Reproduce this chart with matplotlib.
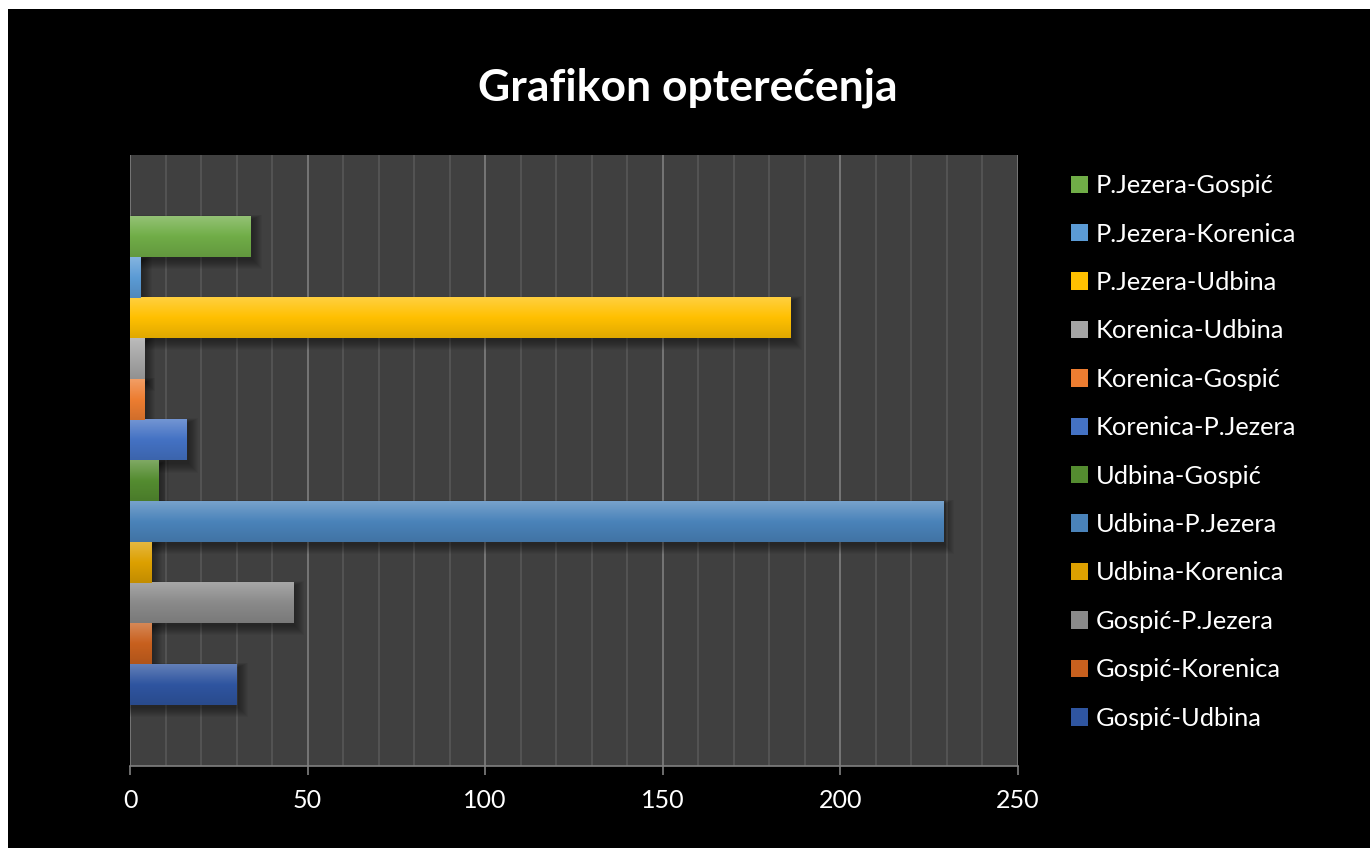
import numpy as np
import matplotlib.pyplot as plt
from matplotlib.patches import Rectangle, Patch
from matplotlib.colors import to_rgb

plt.rcParams['font.family'] = ['Lato', 'DejaVu Sans']

routes = ['Gospić-Udbina', 'Gospić-Korenica', 'Gospić-P.Jezera',
          'Udbina-Korenica', 'Udbina-P.Jezera', 'Udbina-Gospić',
          'Korenica-P.Jezera', 'Korenica-Gospić', 'Korenica-Udbina',
          'P.Jezera-Udbina', 'P.Jezera-Korenica', 'P.Jezera-Gospić']
values = [30, 6, 46, 6, 229, 8, 16, 4, 4, 186, 3, 34]
colors = ['#2F55A0', '#C8601E', '#8A8A8A', '#DDA000', '#4A83BA', '#548C30',
          '#4472C4', '#ED7D31', '#A5A5A5', '#FFC000', '#5B9BD5', '#70AD47']
xticks = [0, 50, 100, 150, 200, 250]


def gradient(c, n=64):
    base = np.array(to_rgb(c))
    top = base + (1 - base) * 0.25
    bot = base * 0.88
    t = np.linspace(0, 1, n)[:, None]
    upper = top + (base - top) * np.clip(t / 0.5, 0, 1)
    lower = base + (bot - base) * np.clip((t - 0.5) / 0.5, 0, 1)
    g = np.where(t < 0.5, upper, lower)
    return g[:, None, :]


W, H = 1370, 848
fig = plt.figure(figsize=(W / 100, H / 100), dpi=100, facecolor='white')
fig.patches.append(Rectangle((8 / W, 0), 1, (H - 9) / H, transform=fig.transFigure,
                             facecolor='black', edgecolor='none', zorder=-10))

ax = fig.add_axes([130 / W, (H - 766) / H, 888 / W, 611 / H])
ax.set_facecolor('#404040')

px = 250 / 888
py = 15 / 611

for i, (v, c) in enumerate(zip(values, colors)):
    # soft drop shadow
    for r in range(10):
        ax.add_patch(Rectangle((0, i - 0.5 - 3 * py - r * py), v + 2 * px + r * px,
                               1 + 1.5 * r * py, facecolor='black', alpha=0.045,
                               edgecolor='none', zorder=1))
for i, (v, c) in enumerate(zip(values, colors)):
    ax.imshow(gradient(c), extent=[0, v, i - 0.5, i + 0.5], aspect='auto',
              interpolation='bilinear', zorder=2)

ax.set_xlim(0, 250)
ax.set_ylim(-2, 13)
ax.set_xticks(xticks)
ax.set_xticks(np.arange(0, 251, 10), minor=True)
ax.set_yticks([])
ax.grid(axis='x', which='minor', color='#575757', lw=1.2, zorder=0.5)
ax.grid(axis='x', which='major', color='#7f7f7f', lw=1.2, zorder=0.6)
ax.set_axisbelow(True)
for s in ['top', 'right', 'left']:
    ax.spines[s].set_visible(False)
ax.spines['bottom'].set_color('#808080')
ax.spines['bottom'].set_linewidth(1.2)
ax.tick_params(axis='x', which='major', length=6.5, color='#808080', width=1.2,
               labelcolor='white', labelsize=18, pad=10)
ax.tick_params(axis='x', which='minor', length=0)

handles = [Patch(facecolor=c, edgecolor='none') for c in colors][::-1]
fig.legend(handles, routes[::-1], loc='upper left',
           bbox_to_anchor=(1061 / W, 1 - 164 / H), frameon=False,
           fontsize=18.3, labelcolor='white', handlelength=0.68, handleheight=0.68,
           handletextpad=0.3, labelspacing=1.0, borderaxespad=0)

fig.text(688 / W, 1 - 88 / H, 'Grafikon opterećenja', ha='center', va='center',
         fontsize=32, fontweight='bold', color='white')

fig.savefig('out.png', dpi=100, facecolor=fig.get_facecolor())
